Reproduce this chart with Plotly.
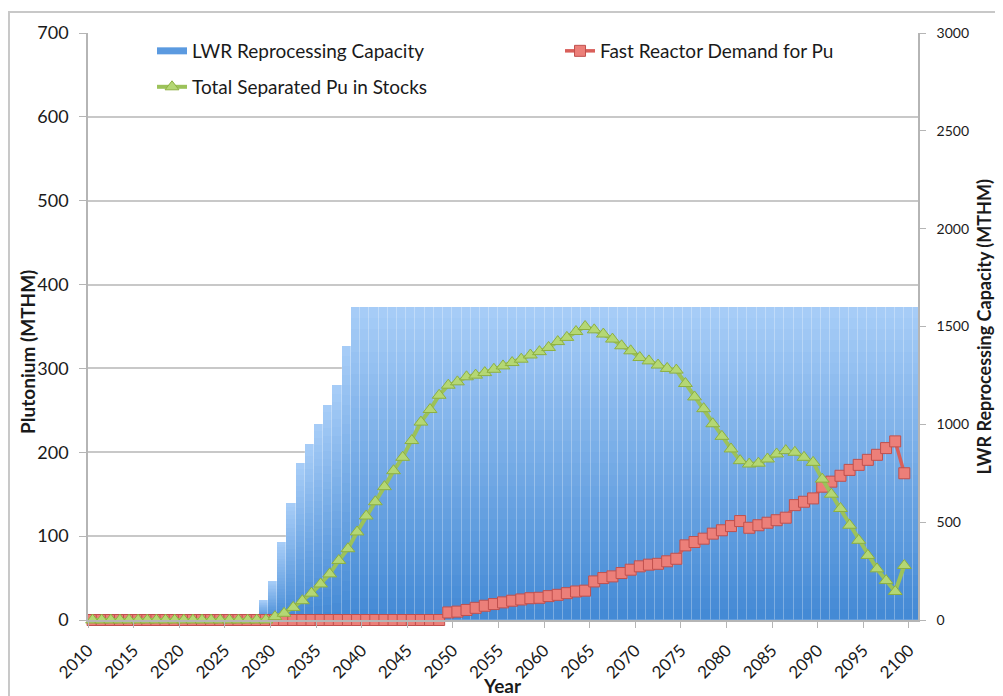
import plotly.graph_objects as go

# ---------------- data ----------------
years = list(range(2010, 2101))
lwr_capacity = [0, 0, 0, 0, 0, 0, 0, 0, 0, 0,
                0, 0, 0, 0, 0, 0, 0, 0, 0, 100,
                200, 400, 600, 800, 900, 1000, 1100, 1200, 1400, 1600,
                1600, 1600, 1600, 1600, 1600, 1600, 1600, 1600, 1600, 1600,
                1600, 1600, 1600, 1600, 1600, 1600, 1600, 1600, 1600, 1600,
                1600, 1600, 1600, 1600, 1600, 1600, 1600, 1600, 1600, 1600,
                1600, 1600, 1600, 1600, 1600, 1600, 1600, 1600, 1600, 1600,
                1600, 1600, 1600, 1600, 1600, 1600, 1600, 1600, 1600, 1600,
                1600, 1600, 1600, 1600, 1600, 1600, 1600, 1600, 1600, 1600,
                1600]

line_years = list(range(2010, 2100))
fr_demand = [0, 0, 0, 0, 0, 0, 0, 0, 0, 0,
             0, 0, 0, 0, 0, 0, 0, 0, 0, 0,
             0, 0, 0, 0, 0, 0, 0, 0, 0, 0,
             0, 0, 0, 0, 0, 0, 0, 0, 0, 9,
             10, 12, 14.5, 17, 19, 21, 23, 24.5, 26, 26.5,
             28.5, 30, 32, 34, 35, 46, 50, 52, 56, 60,
             64, 66, 67, 70, 73, 89, 93, 97, 103, 107,
             112, 118, 110, 113, 116, 119, 122, 137, 141, 145,
             159, 165, 172, 179, 185, 191, 197, 205, 213, 175]
pu_stocks = [0, 0, 0, 0, 0, 0, 0, 0, 0, 0,
             0, 0, 0, 0, 0, 0, 0, 0, 0, 0,
             4, 8, 15, 23, 32, 43, 55, 71, 85, 105,
             124, 141, 159, 178, 194, 214, 236, 251, 268, 280,
             284, 290, 292, 295, 299, 303, 307, 311, 316, 320,
             325, 332, 337, 344, 350, 346, 341, 335, 327, 321,
             313, 309, 304, 300, 298, 282, 266, 252, 234, 219,
             204, 190, 186, 187, 192, 198, 202, 200, 194, 188,
             168, 150, 133, 113, 95, 77, 61, 47, 34, 65]

tick_years = list(range(2010, 2101, 5))
left_ticks = [0, 100, 200, 300, 400, 500, 600, 700]
right_ticks = [0, 500, 1000, 1500, 2000, 2500, 3000]

# ---------------- figure ----------------
fig = go.Figure()

# gradient bars (each bar light at top, darker at bottom) via overlaid layers
N = 28
top_rgb = (166, 204, 247)
bot_rgb = (68, 138, 213)
for j in range(N):
    f = j / (N - 1)
    col = "rgb(%d,%d,%d)" % tuple(round(top_rgb[i] + (bot_rgb[i] - top_rgb[i]) * f) for i in range(3))
    fig.add_trace(go.Bar(
        x=years, y=[c * (1 - j / N) for c in lwr_capacity], width=1,
        marker=dict(color=col, line=dict(width=0)),
        xaxis="x", yaxis="y", showlegend=False, hoverinfo="skip"))
# faint separators between bars
fig.add_trace(go.Bar(
    x=years, y=lwr_capacity, width=1,
    marker=dict(color="rgba(0,0,0,0)", line=dict(color="rgba(255,255,255,0.16)", width=1)),
    xaxis="x", yaxis="y", showlegend=False, name="LWR Reprocessing Capacity"))

# legend entry for the capacity bars
fig.add_trace(go.Scatter(
    x=[None], y=[None], mode="lines", name="LWR Reprocessing Capacity",
    line=dict(color="#5b9ae0", width=7), xaxis="x2", yaxis="y2", legend="legend"))

fig.add_trace(go.Scatter(
    x=line_years, y=fr_demand, mode="lines+markers", name="Fast Reactor Demand for Pu",
    line=dict(color="#d95f5a", width=3.5),
    marker=dict(symbol="square", size=11, color="#ec7f79", line=dict(color="#c0504d", width=1)),
    xaxis="x2", yaxis="y2", cliponaxis=False, legend="legend"))

fig.add_trace(go.Scatter(
    x=line_years, y=pu_stocks, mode="lines+markers", name="Total Separated Pu in Stocks",
    line=dict(color="#9cc25a", width=4),
    marker=dict(symbol="triangle-up", size=12, color="#b4d774", line=dict(color="#8db040", width=1)),
    xaxis="x2", yaxis="y2", cliponaxis=False, legend="legend2"))

axis_gray = "#b5b5b5"
OFF = 8            # page body margin of the html page
FW, FH = 995, 688  # figure size so it fits the 1003x696 window
L, T = 88 - OFF, 33 - OFF
R = FW - (917.7 - OFF)
B = FH - (620.5 - OFF)
W = FW - L - R
H = FH - T - B


def px_x(wx):
    return (wx - OFF - L) / W


def px_y(wy):
    return (FH - B - (wy - OFF)) / H


fig.update_layout(
    width=FW, height=FH,
    margin=dict(l=L, r=R, t=T, b=B, autoexpand=False),
    paper_bgcolor="white", plot_bgcolor="white",
    barmode="overlay", bargap=0,
    font=dict(family="Lato", color="#1a1a1a"),
    xaxis=dict(range=[2010, 2100], visible=False),
    yaxis=dict(range=[0, 3000], side="right", tickvals=right_ticks, ticks="outside",
               ticklen=6, tickcolor=axis_gray, showline=True, linecolor=axis_gray, linewidth=1.5,
               showgrid=False, zeroline=False, tickfont=dict(size=14), ticklabelstandoff=8,
               automargin=False),
    xaxis2=dict(overlaying="x", anchor="y2", side="bottom", range=[2009.5, 2100.5],
                tickvals=[y - 0.5 for y in tick_years], ticktext=[str(y) for y in tick_years],
                tickangle=-45, ticks="outside", ticklen=6, tickcolor=axis_gray,
                showline=True, linecolor=axis_gray, linewidth=1.5, showgrid=False,
                zeroline=False, tickfont=dict(size=17), ticklabelstandoff=6, automargin=False),
    yaxis2=dict(overlaying="y", anchor="x", side="left", range=[0, 700], tickvals=left_ticks,
                ticks="outside", ticklen=7, tickcolor=axis_gray, showline=True,
                linecolor=axis_gray, linewidth=1.5, showgrid=True, gridcolor="#c8c8c8",
                gridwidth=1.5, zeroline=False, tickfont=dict(size=18), ticklabelstandoff=7,
                automargin=False),
    legend=dict(orientation="h", x=px_x(152), xanchor="left", y=px_y(51), yanchor="middle",
                entrywidth=363, entrywidthmode="pixels", font=dict(size=19),
                bgcolor="rgba(0,0,0,0)", traceorder="normal"),
    legend2=dict(orientation="h", x=px_x(152), xanchor="left", y=px_y(87), yanchor="middle",
                 font=dict(size=19), bgcolor="rgba(0,0,0,0)"),
    annotations=[
        dict(text="<b>Plutonium (MTHM)</b>", textangle=-90, xref="paper", yref="paper",
             x=px_x(27.5), y=px_y(351.7), xanchor="center", yanchor="middle",
             showarrow=False, font=dict(size=19)),
        dict(text="<b>LWR Reprocessing Capacity (MTHM)</b>", textangle=-90, xref="paper",
             yref="paper", x=px_x(984), y=px_y(326.5), xanchor="center", yanchor="middle",
             showarrow=False, font=dict(size=18)),
        dict(text="<b>Year</b>", xref="paper", yref="paper", x=px_x(502.5), y=px_y(686),
             xanchor="center", yanchor="middle", showarrow=False, font=dict(size=19)),
    ],
    shapes=[dict(type="rect", xref="paper", yref="paper",
                 x0=px_x(9), x1=px_x(1030), y0=px_y(720), y1=px_y(12),
                 line=dict(color="#c8c8c8", width=2), fillcolor="rgba(0,0,0,0)", layer="below")],
)

fig.write_html("out.html")
